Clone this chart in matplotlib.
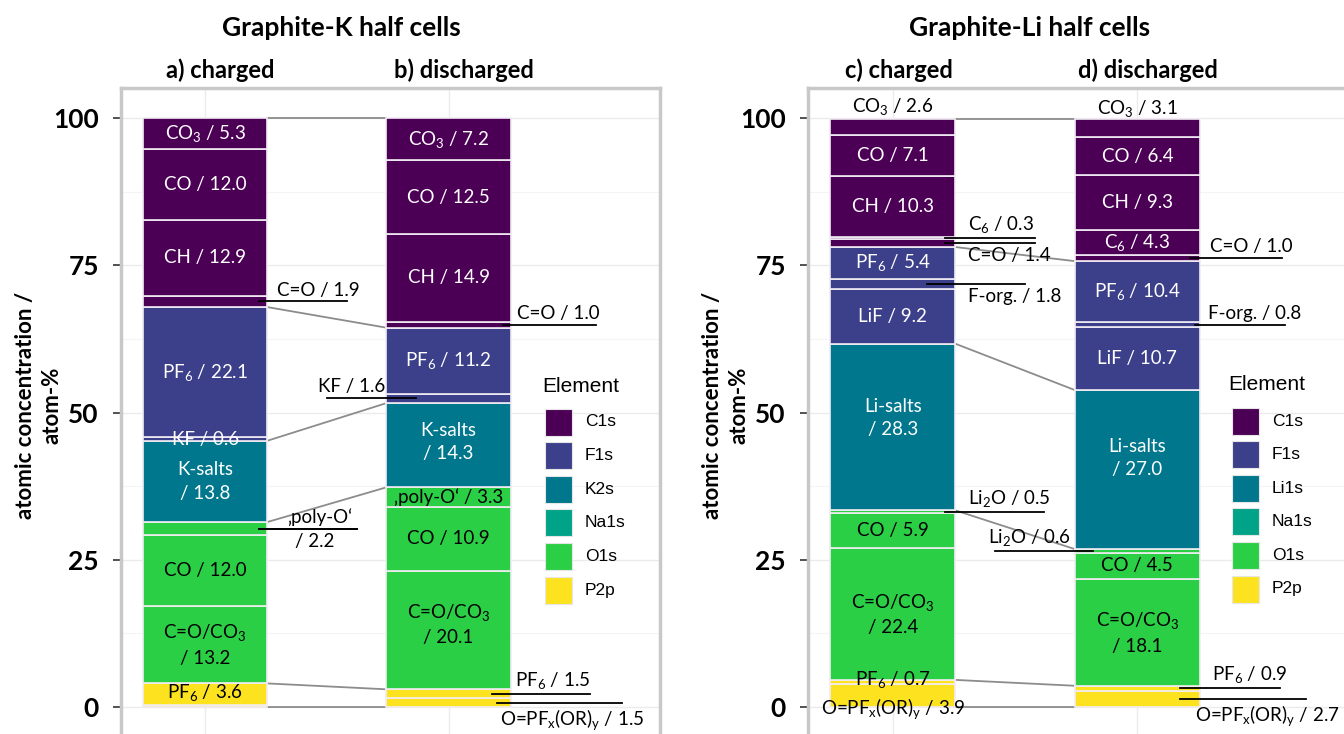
import matplotlib.pyplot as plt
from matplotlib.patches import Rectangle

plt.rcParams['font.family'] = ['Lato', 'DejaVu Sans']
plt.rcParams['mathtext.fontset'] = 'custom'
plt.rcParams['mathtext.rm'] = 'Lato'
plt.rcParams['mathtext.it'] = 'Lato:italic'
plt.rcParams['mathtext.bf'] = 'Lato:bold'

COLORS = {'C1s': '#4b0055', 'F1s': '#3c3f8a', 'K2s': '#00778c', 'Li1s': '#00778c',
          'Na1s': '#00a387', 'O1s': '#2bcf46', 'P2p': '#fde31f'}
DARK = ['C1s', 'F1s', 'K2s', 'Li1s']

# stacks from the bottom up
k_elem = ['P2p', 'P2p', 'O1s', 'O1s', 'O1s', 'K2s', 'F1s', 'F1s', 'C1s', 'C1s', 'C1s', 'C1s']
k_names = [r'O=PF$_\mathrm{x}$(OR)$_\mathrm{y}$', r'PF$_6$', r'C=O/CO$_3$', 'CO', '‚poly-O‘',
           'K-salts', 'KF', r'PF$_6$', 'C=O', 'CH', 'CO', r'CO$_3$']
a_vals = [0.4, 3.6, 13.2, 12.0, 2.2, 13.8, 0.6, 22.1, 1.9, 12.9, 12.0, 5.3]
b_vals = [1.5, 1.5, 20.1, 10.9, 3.3, 14.3, 1.6, 11.2, 1.0, 14.9, 12.5, 7.2]

li_elem = ['P2p', 'P2p', 'O1s', 'O1s', 'O1s', 'Li1s', 'F1s', 'F1s', 'F1s',
           'C1s', 'C1s', 'C1s', 'C1s', 'C1s']
li_names = [r'O=PF$_\mathrm{x}$(OR)$_\mathrm{y}$', r'PF$_6$', r'C=O/CO$_3$', 'CO', r'Li$_2$O',
            'Li-salts', 'LiF', 'F-org.', r'PF$_6$', 'C=O', r'C$_6$', 'CH', 'CO', r'CO$_3$']
c_vals = [3.9, 0.7, 22.4, 5.9, 0.5, 28.3, 9.2, 1.8, 5.4, 1.4, 0.3, 10.3, 7.1, 2.6]
d_vals = [2.7, 0.9, 18.1, 4.5, 0.6, 27.0, 10.7, 0.8, 10.4, 1.0, 4.3, 9.3, 6.4, 3.1]

k_legend = ['C1s', 'F1s', 'K2s', 'Na1s', 'O1s', 'P2p']
li_legend = ['C1s', 'F1s', 'Li1s', 'Na1s', 'O1s', 'P2p']

W = 0.51
FS = 13.5
AX_H = 682  # axes height in pixels


def mid(vals, i):
    return sum(vals[:i]) + vals[i] / 2


def label(vals, names, i, two=False):
    sep = '\n' if two else ' '
    return f'{names[i]}{sep}/ {vals[i]:.1f}'


def draw_stack(ax, x, vals, elem):
    bottom = 0
    for v, e in zip(vals, elem):
        ax.bar(x, v, bottom=bottom, width=W, color=COLORS[e], edgecolor='#f2ecf4',
               linewidth=1.2, zorder=3)
        bottom += v


def bounds(vals, elem):
    out = [0]
    s = 0
    for k, (v, e) in enumerate(zip(vals, elem)):
        s += v
        if k == len(vals) - 1 or elem[k + 1] != e:
            out.append(s)
    return out


def connect(ax, v1, v2, elem):
    for y1, y2 in zip(bounds(v1, elem), bounds(v2, elem)):
        ax.plot([W / 2, 1 - W / 2], [y1, y2], color='#8c8c8c', lw=1.3, zorder=2)


def inside(ax, x, vals, elem, names, i, two=False, dy=0, color=None):
    if color is None:
        color = 'white' if elem[i] in DARK else 'black'
    ax.text(x, mid(vals, i) + dy, label(vals, names, i, two), ha='center', va='center',
            fontsize=FS, color=color, zorder=5, linespacing=1.45)


def callout(ax, vals, names, i, x0, x1, xt, above=True, txt=None):
    y = mid(vals, i)
    ax.plot([x0, x1], [y, y], color='black', lw=1.3, zorder=6, clip_on=False)
    if txt is None:
        txt = label(vals, names, i)
    if above:
        ax.text(xt, y + 0.5, txt, ha='left', va='bottom', fontsize=FS, zorder=6)
    else:
        ax.text(xt, y - 0.7, txt, ha='left', va='top', fontsize=FS, zorder=6)


def legend(ax, names, ax_w, x_title, x_box, x_txt, y_title, y_first):
    tr = ax.transAxes
    ax.text(x_title / ax_w, 1 - y_title / AX_H, 'Element', transform=tr, ha='left',
            va='center', fontsize=15, family='Liberation Sans')
    for k, n in enumerate(names):
        yc = y_first + k * 33.6
        ax.add_patch(Rectangle((x_box / ax_w, 1 - (yc + 13.5) / AX_H), 27 / ax_w, 27 / AX_H,
                               transform=tr, facecolor=COLORS[n], edgecolor='#e6e6e6',
                               lw=0.8, zorder=5))
        ax.text(x_txt / ax_w, 1 - yc / AX_H, n, transform=tr, ha='left', va='center',
                fontsize=12.5, family='Liberation Sans')


def style(ax):
    ax.set_xlim(-0.346, 1.869)
    ax.set_ylim(-10.7, 105.1)
    ax.set_yticks([0, 25, 50, 75, 100])
    ax.set_yticks([12.5, 37.5, 62.5, 87.5], minor=True)
    ax.set_xticks([0, 1])
    ax.tick_params(axis='x', length=0, labelbottom=False)
    ax.tick_params(axis='y', which='major', length=6, width=1.2, color='#333333', pad=10,
                   labelsize=19)
    ax.tick_params(axis='y', which='minor', length=0)
    for t in ax.get_yticklabels():
        t.set_fontweight('bold')
    ax.grid(True, which='major', color='#ebebeb', lw=1, zorder=0)
    ax.grid(True, which='minor', axis='y', color='#f4f4f4', lw=0.8, zorder=0)
    ax.set_axisbelow(True)
    for s in ax.spines.values():
        s.set_color('#c8c8c8')
        s.set_linewidth(2.5)
    ax.set_ylabel('atomic concentration /\natom-%', fontsize=16, fontweight='bold',
                  linespacing=1.35)
    ax.yaxis.set_label_coords(-0.108, 0.535)


fig = plt.figure(figsize=(13.44, 7.34), dpi=100)
axk = fig.add_axes([121 / 1344, -36 / 734, 539 / 1344, AX_H / 734])
axl = fig.add_axes([808 / 1344, -36 / 734, 542 / 1344, AX_H / 734])

# ---- Graphite-K
draw_stack(axk, 0, a_vals, k_elem)
draw_stack(axk, 1, b_vals, k_elem)
connect(axk, a_vals, b_vals, k_elem)

for i in [11, 10, 9, 7, 6, 3]:
    inside(axk, 0, a_vals, k_elem, k_names, i)
inside(axk, 0, a_vals, k_elem, k_names, 5, two=True)
inside(axk, 0, a_vals, k_elem, k_names, 2, two=True)
inside(axk, 0, a_vals, k_elem, k_names, 1, dy=0.3)
for i in [11, 10, 9, 7, 4, 3]:
    inside(axk, 1, b_vals, k_elem, k_names, i)
inside(axk, 1, b_vals, k_elem, k_names, 5, two=True, dy=0.5)
inside(axk, 1, b_vals, k_elem, k_names, 2, two=True, dy=1.0)

callout(axk, a_vals, k_names, 8, 0.222, 0.583, 0.296)
callout(axk, b_vals, k_names, 8, 1.224, 1.606, 1.281)
callout(axk, b_vals, k_names, 6, 0.501, 0.867, 0.464)
callout(axk, a_vals, k_names, 4, 0.222, 0.624, 0.337, txt=k_names[4])
callout(axk, a_vals, k_names, 4, 0.222, 0.624, 0.367, above=False, txt=f'/ {a_vals[4]:.1f}')
callout(axk, b_vals, k_names, 1, 1.179, 1.581, 1.273)
callout(axk, b_vals, k_names, 0, 1.199, 1.713, 1.211, above=False)
style(axk)
legend(axk, k_legend, 539, 421, 424, 464, 298, 334)

# ---- Graphite-Li
draw_stack(axl, 0, c_vals, li_elem)
draw_stack(axl, 1, d_vals, li_elem)
connect(axl, c_vals, d_vals, li_elem)

for i in [12, 11, 8, 6, 3]:
    inside(axl, 0, c_vals, li_elem, li_names, i)
inside(axl, 0, c_vals, li_elem, li_names, 13, dy=3.5, color='black')
inside(axl, 0, c_vals, li_elem, li_names, 5, two=True, dy=1.5)
inside(axl, 0, c_vals, li_elem, li_names, 2, two=True)
inside(axl, 0, c_vals, li_elem, li_names, 1, dy=0.5, color='black')
inside(axl, 0, c_vals, li_elem, li_names, 0, dy=-2.2, color='black')
for i in [12, 11, 10, 8, 6, 3]:
    inside(axl, 1, d_vals, li_elem, li_names, i)
inside(axl, 1, d_vals, li_elem, li_names, 13, dy=3.3, color='black')
inside(axl, 1, d_vals, li_elem, li_names, 5, two=True, dy=2.0)
inside(axl, 1, d_vals, li_elem, li_names, 2, two=True)

callout(axl, c_vals, li_names, 10, 0.213, 0.581, 0.307)
callout(axl, c_vals, li_names, 9, 0.213, 0.581, 0.307, above=False)
callout(axl, c_vals, li_names, 7, 0.139, 0.540, 0.307, above=False)
callout(axl, c_vals, li_names, 4, 0.213, 0.618, 0.307)
callout(axl, d_vals, li_names, 9, 1.215, 1.591, 1.297)
callout(axl, d_vals, li_names, 7, 1.235, 1.603, 1.288)
callout(axl, d_vals, li_names, 4, 0.417, 0.818, 0.389)
callout(axl, d_vals, li_names, 1, 1.174, 1.583, 1.305)
callout(axl, d_vals, li_names, 0, 1.174, 1.689, 1.235, above=False)
style(axl)
legend(axl, li_legend, 542, 420, 424, 464, 296, 333)

# titles
fig.text(341 / 1344, 1 - 28 / 734, 'Graphite-K half cells', ha='center', va='center',
         fontsize=19, fontweight='bold')
fig.text(1030 / 1344, 1 - 28 / 734, 'Graphite-Li half cells', ha='center', va='center',
         fontsize=19, fontweight='bold')
for x, t in [(220, 'a) charged'), (464, 'b) discharged'),
             (899, 'c) charged'), (1148, 'd) discharged')]:
    fig.text(x / 1344, 1 - 70 / 734, t, ha='center', va='center', fontsize=17,
             fontweight='bold')

fig.savefig('out.png', dpi=100)
